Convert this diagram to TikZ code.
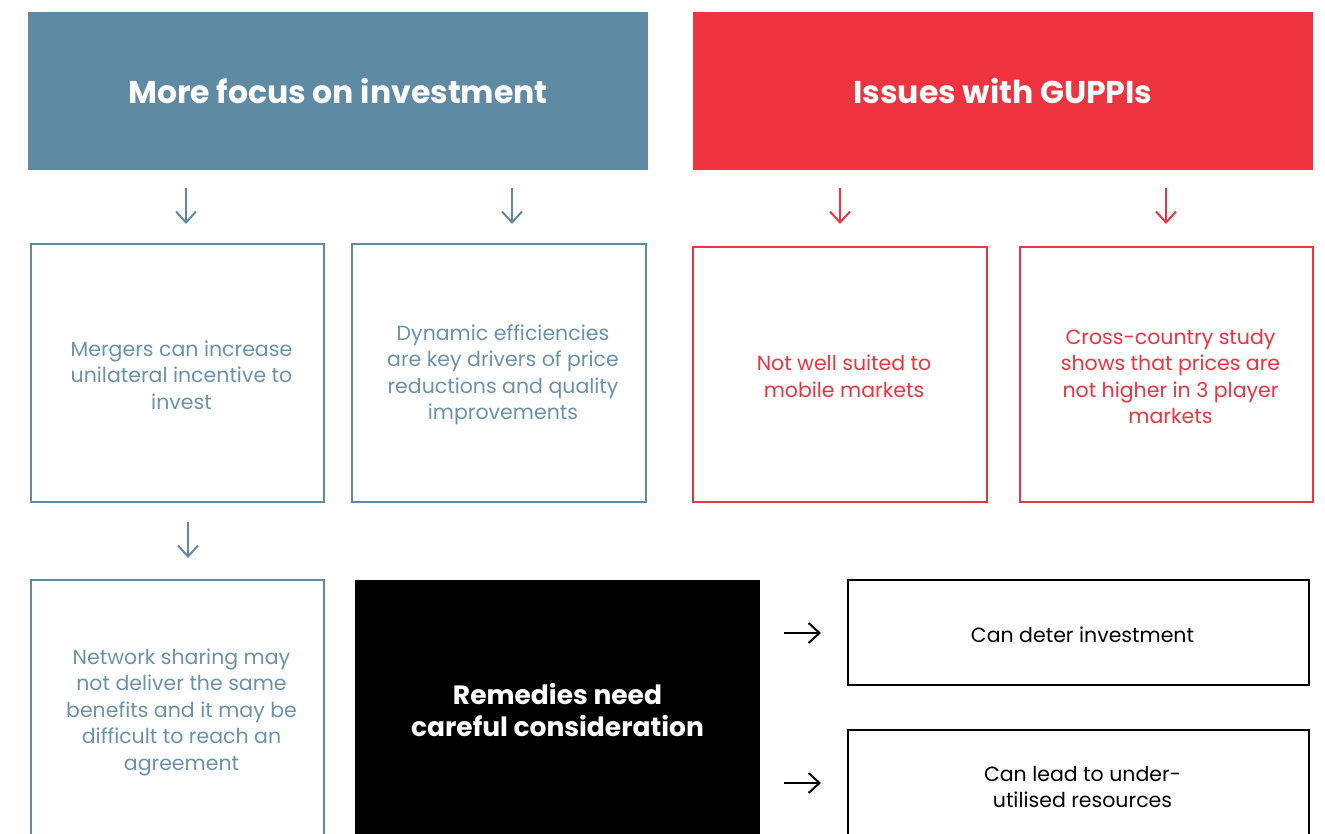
\documentclass[tikz,border=0pt]{standalone}
\usepackage{fontspec}
\setmainfont{Poppins}
\usetikzlibrary{arrows.meta}
\definecolor{cblue}{HTML}{5F8AA3}
\definecolor{cbluetext}{HTML}{6A93AB}
\definecolor{cred}{HTML}{EF3340}
\tikzset{
  hdr/.style={minimum width=620pt, minimum height=158pt, inner sep=0pt, text=white,
    font=\fontsize{31.5}{36}\selectfont\bfseries},
  bodyfont/.style={font=\fontsize{20.5}{26.5}\selectfont, align=center, inner sep=0pt},
  lbl/.style={bodyfont, xshift=4pt, yshift=-2pt},
  bbox/.style={draw=cblue, line width=2.2pt, inner sep=0pt, label={[lbl, text=cbluetext]center:#1}},
  rbox/.style={draw=cred, line width=2.2pt, inner sep=0pt, label={[lbl, text=cred]center:#1}},
  kbox/.style={draw=black, line width=2.2pt, inner sep=0pt, label={[lbl, text=black]center:#1}},
  arr/.style={line width=2pt, -{Straight Barb[length=11pt, width=20pt, line width=2pt]}},
}
\begin{document}
\begin{tikzpicture}[x=1pt,y=-1pt]
\useasboundingbox (0,0) rectangle (1325,834);
\clip (0,0) rectangle (1325,834);
% headers
\node[hdr, fill=cblue] (h1) at (338,91) {More focus on investment};
\node[hdr, fill=cred] (h2) at (1003,91) {Issues with GUPPIs};
% boxes row 1
\node[bbox={Mergers can increase\\unilateral incentive to\\invest},
  minimum width=293pt, minimum height=258pt] (b1) at (177.5,373) {};
\node[bbox={Dynamic efficiencies\\are key drivers of price\\reductions and quality\\improvements},
  minimum width=294pt, minimum height=258pt] (b2) at (499,373) {};
\node[rbox={Not well suited to\\mobile markets},
  minimum width=294pt, minimum height=255pt] (b3) at (840,374.5) {};
\node[rbox={Cross-country study\\shows that prices are\\not higher in 3 player\\markets},
  minimum width=293pt, minimum height=255pt] (b4) at (1166.5,374.5) {};
% row 2
\node[bbox={Network sharing may\\not deliver the same\\benefits and it may be\\difficult to reach an\\agreement},
  minimum width=293pt, minimum height=260pt] (b5) at (177.5,710) {};
\node[fill=black, minimum width=405pt, minimum height=260pt, inner sep=0pt, align=center,
  text=white, font=\fontsize{26.5}{32}\selectfont\bfseries] (rem) at (557.5,710)
  {Remedies need\\careful consideration};
\node[kbox={Can deter investment},
  minimum width=461pt, minimum height=105pt] (b6) at (1078.5,632.5) {};
\node[kbox={Can lead to under-\\utilised resources},
  minimum width=461pt, minimum height=110pt] (b7) at (1078.5,785) {};
% arrows
\coordinate (a1s) at (186,188); \coordinate (a1e) at (186,224);
\coordinate (a2s) at (512,188); \coordinate (a2e) at (512,224);
\coordinate (a3s) at (840,188); \coordinate (a3e) at (840,224);
\coordinate (a4s) at (1166,188); \coordinate (a4e) at (1166,224);
\coordinate (a5s) at (188,522); \coordinate (a5e) at (188,558);
\coordinate (a6s) at (784,633); \coordinate (a6e) at (821,633);
\coordinate (a7s) at (784,783); \coordinate (a7e) at (821,783);
\draw[arr, cblue] (a1s) -- (a1e);
\draw[arr, cblue] (a2s) -- (a2e);
\draw[arr, cred] (a3s) -- (a3e);
\draw[arr, cred] (a4s) -- (a4e);
\draw[arr, cblue] (a5s) -- (a5e);
\draw[arr, black] (a6s) -- (a6e);
\draw[arr, black] (a7s) -- (a7e);
\end{tikzpicture}
\end{document}
